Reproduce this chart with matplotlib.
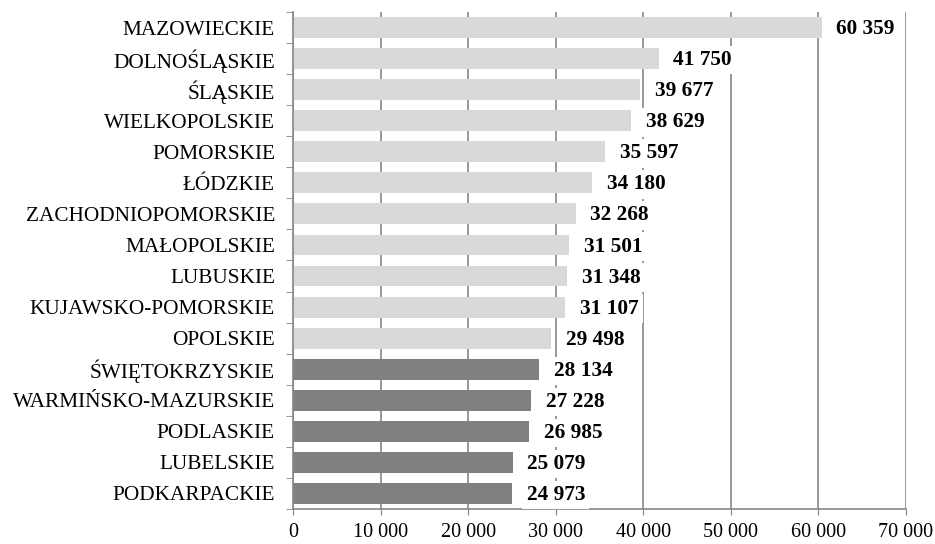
import matplotlib.pyplot as plt
import numpy as np

# regions and values, top to bottom
regions = ['MAZOWIECKIE', 'DOLNOŚLĄSKIE', 'ŚLĄSKIE', 'WIELKOPOLSKIE', 'POMORSKIE',
           'ŁÓDZKIE', 'ZACHODNIOPOMORSKIE', 'MAŁOPOLSKIE', 'LUBUSKIE',
           'KUJAWSKO-POMORSKIE', 'OPOLSKIE', 'ŚWIĘTOKRZYSKIE', 'WARMIŃSKO-MAZURSKIE',
           'PODLASKIE', 'LUBELSKIE', 'PODKARPACKIE']
values = [60359, 41750, 39677, 38629, 35597, 34180, 32268, 31501, 31348,
          31107, 29498, 28134, 27228, 26985, 25079, 24973]
n_light = 11
x_ticks = [0, 10000, 20000, 30000, 40000, 50000, 60000, 70000]

plt.rcParams['font.family'] = ['Liberation Serif', 'DejaVu Serif']
FS = 15.3

def fmt(v):
    return f'{v:,}'.replace(',', ' ')

fig = plt.figure(figsize=(9.35, 5.44), dpi=100)
ax = fig.add_axes([0.3134, 0.0643, 0.6555, 0.9137])

y = np.arange(len(regions))
colors = ['#D9D9D9'] * n_light + ['#808080'] * (len(regions) - n_light)
ax.barh(y, values, height=0.67, color=colors, zorder=2)

for yi, v in zip(y, values):
    ax.text(v + 1700, yi + 0.05, fmt(v), va='center', ha='left', fontsize=FS,
            fontweight='bold', zorder=5, clip_on=False,
            bbox=dict(facecolor='white', edgecolor='none', pad=3))

ax.set_ylim(len(regions) - 0.5, -0.5)
ax.set_xlim(0, 70000)
ax.set_yticks(y)
ax.set_yticklabels(regions, fontsize=FS)
ax.set_yticks(np.arange(len(regions) + 1) - 0.5, minor=True)
ax.tick_params(axis='y', which='major', length=0, pad=13)
ax.tick_params(axis='y', which='minor', length=5, color='#868686', direction='out')
ax.set_xticks(x_ticks)
ax.set_xticklabels([fmt(t) for t in x_ticks], fontsize=14.5)
ax.tick_params(axis='x', length=4, color='#868686', direction='out', pad=6)

ax.grid(axis='x', color='#868686', linewidth=1.2, zorder=1)
ax.set_axisbelow(True)
for s in ['top', 'right']:
    ax.spines[s].set_visible(False)
for s in ['left', 'bottom']:
    ax.spines[s].set_color('#868686')
    ax.spines[s].set_linewidth(1.2)

plt.savefig('out.png')
